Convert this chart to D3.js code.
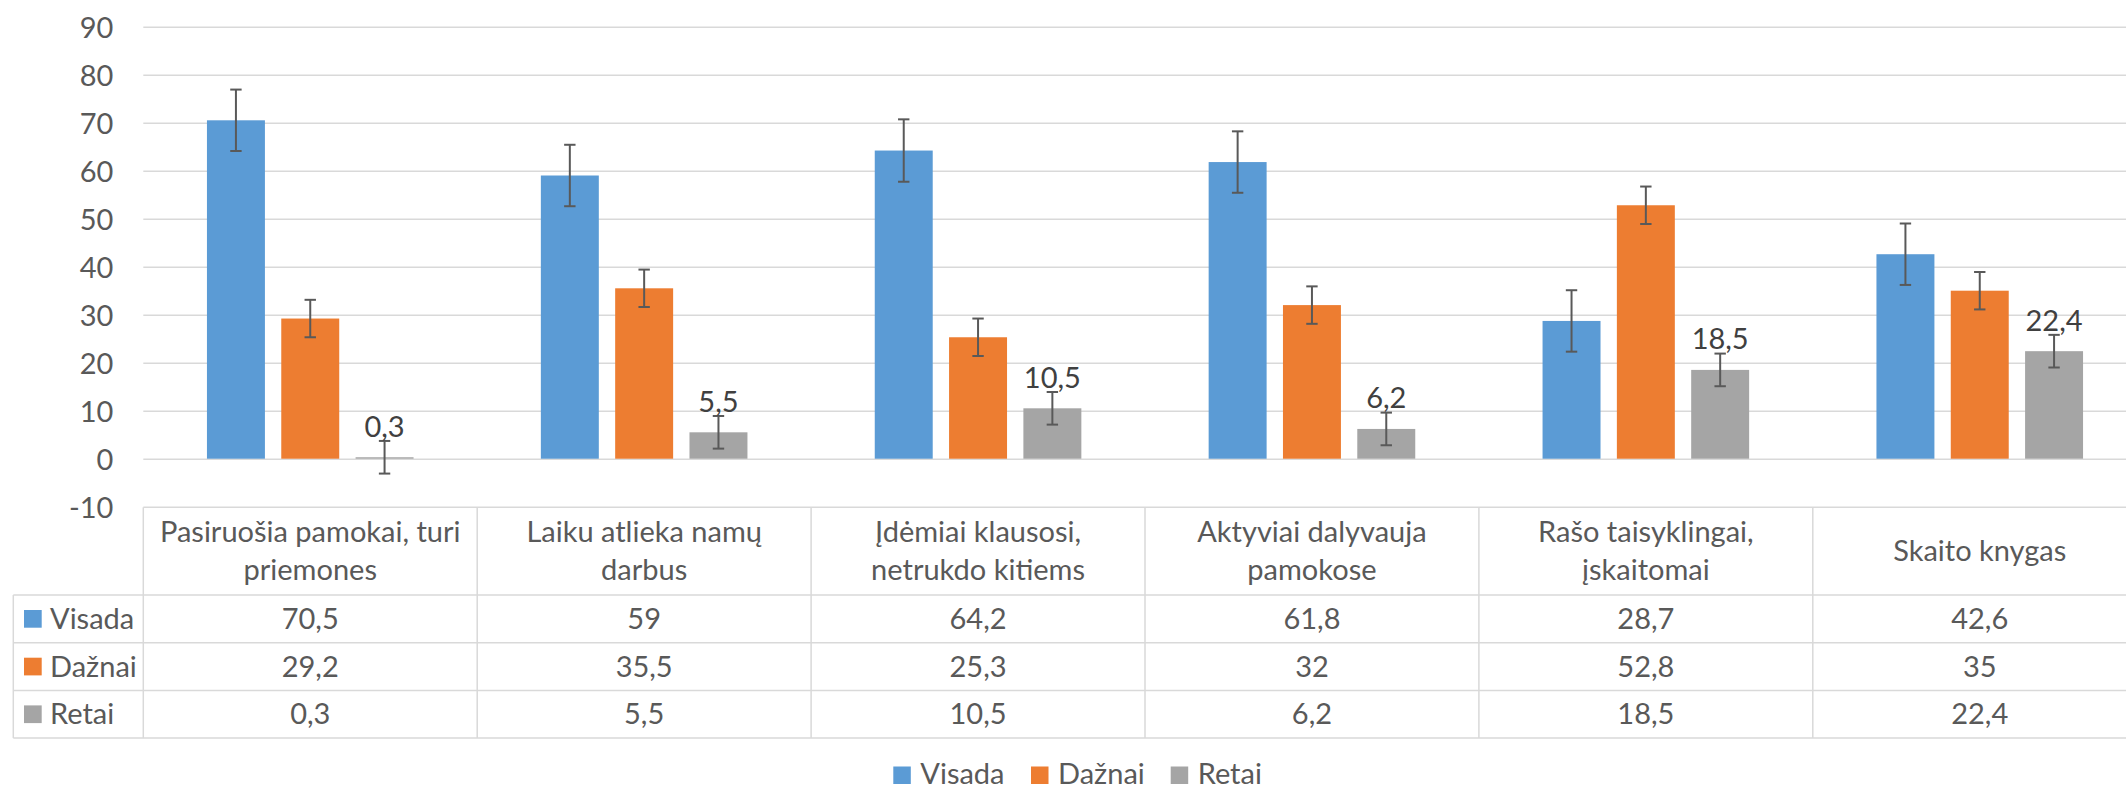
<!DOCTYPE html>
<html>
<head>
<meta charset="utf-8">
<script src="https://cdn.jsdelivr.net/npm/d3@7"></script>
<style>
  html, body { margin: 0; padding: 0; background: #ffffff; }
  svg { display: block; font-family: Lato, "Open Sans", sans-serif; }
</style>
</head>
<body>
<svg id="chart" width="2126" height="790"></svg>
<script>
// ---- data ----
const categories = [
  "Pasiruošia pamokai, turi\npriemones",
  "Laiku atlieka namų\ndarbus",
  "Įdėmiai klausosi,\nnetrukdo kitiems",
  "Aktyviai dalyvauja\npamokose",
  "Rašo taisyklingai,\nįskaitomai",
  "Skaito knygas"
];
const seriesNames = ["Visada", "Dažnai", "Retai"];
const visada = [70.5, 59, 64.2, 61.8, 28.7, 42.6];
const daznai = [29.2, 35.5, 25.3, 32, 52.8, 35];
const retai  = [0.3, 5.5, 10.5, 6.2, 18.5, 22.4];
const errVisada = [6.4, 6.4, 6.5, 6.4, 6.4, 6.4];
const errDaznai = [3.9, 3.9, 3.9, 3.9, 3.9, 3.9];
const errRetai  = [3.4, 3.4, 3.4, 3.4, 3.4, 3.4];
const yTicks = [-10, 0, 10, 20, 30, 40, 50, 60, 70, 80, 90];
const colors = ["#5B9BD5", "#ED7D31", "#A5A5A5"];

const seriesValues = [visada, daznai, retai];
const seriesErrors = [errVisada, errDaznai, errRetai];
const labeledSeries = [false, false, true];

// ---- layout ----
const W = 2126, H = 790;
const plotLeft = 143.3, bandW = 333.9;
const tableTop = 507.3, headerBottom = 595, rowH = 47.7;
const tableBottom = headerBottom + rowH * 3;
const legendColLeft = 13.3;
const gridColor = "#d9d9d9";
const textColor = "#595959";
const fontSize = 29;

const fmt = v => String(v).replace(".", ",");

const svg = d3.select("#chart");

const x = d3.scaleBand().domain(categories).range([plotLeft, plotLeft + bandW * 6]).padding(0);
const groupW = 206.6;
const xs = d3.scaleBand().domain(seriesNames)
  .range([(bandW - groupW) / 2, (bandW + groupW) / 2]).paddingInner(0.22).paddingOuter(0);
const y = d3.scaleLinear().domain([-10, 90]).range([506.7, 26.7]);

// gridlines
const grid = svg.append("g").attr("transform", `translate(${plotLeft},0)`)
  .call(d3.axisLeft(y).tickValues(yTicks.filter(t => t > -10)).tickSize(-(W - plotLeft)).tickFormat(""));
grid.select(".domain").remove();
grid.selectAll(".tick line").attr("stroke", gridColor).attr("stroke-width", 1.5);

// y axis labels
const yAxis = svg.append("g").attr("transform", `translate(${plotLeft},0)`)
  .call(d3.axisLeft(y).tickValues(yTicks).tickSize(0).tickPadding(30).tickFormat(d => fmt(d)));
yAxis.select(".domain").remove();
yAxis.selectAll("text").attr("font-size", fontSize).attr("fill", textColor)
  .attr("font-family", "Lato, sans-serif").attr("dy", "0.36em");

// bars
seriesNames.forEach((s, si) => {
  const g = svg.append("g");
  const vals = seriesValues[si], errs = seriesErrors[si];
  g.selectAll("rect").data(categories).join("rect")
    .attr("x", (c) => x(c) + xs(s))
    .attr("width", xs.bandwidth())
    .attr("y", (c, i) => y(Math.max(0, vals[i])))
    .attr("height", (c, i) => Math.abs(y(vals[i]) - y(0)))
    .attr("fill", colors[si]);
  // error bars
  const eb = svg.append("g").attr("stroke", "#595959").attr("stroke-width", 2);
  categories.forEach((c, i) => {
    const cx = x(c) + xs(s) + xs.bandwidth() / 2;
    const top = y(vals[i] + errs[i]), bot = y(vals[i] - errs[i]);
    eb.append("line").attr("x1", cx).attr("x2", cx).attr("y1", top).attr("y2", bot);
    eb.append("line").attr("x1", cx - 5.7).attr("x2", cx + 5.7).attr("y1", top).attr("y2", top);
    eb.append("line").attr("x1", cx - 5.7).attr("x2", cx + 5.7).attr("y1", bot).attr("y2", bot);
  });
  if (labeledSeries[si]) {
    svg.append("g").selectAll("text").data(categories).join("text")
      .attr("x", c => x(c) + xs(s) + xs.bandwidth() / 2)
      .attr("y", (c, i) => y(vals[i]) - 20.6)
      .attr("text-anchor", "middle")
      .attr("font-size", fontSize)
      .attr("fill", "#404040")
      .text((c, i) => fmt(vals[i]));
  }
});

// ---- data table ----
const tbl = svg.append("g").attr("stroke", gridColor).attr("stroke-width", 1.5).attr("fill", "none");
tbl.append("line").attr("x1", plotLeft).attr("x2", W).attr("y1", tableTop).attr("y2", tableTop);
[0, 1, 2, 3].forEach(r => {
  const yy = headerBottom + r * rowH;
  tbl.append("line").attr("x1", legendColLeft).attr("x2", W).attr("y1", yy).attr("y2", yy);
});
tbl.append("line").attr("x1", legendColLeft).attr("x2", legendColLeft).attr("y1", headerBottom).attr("y2", tableBottom);
categories.forEach((c, i) => {
  const xx = x(c);
  tbl.append("line").attr("x1", xx).attr("x2", xx).attr("y1", tableTop).attr("y2", tableBottom);
});

// header text
const hdr = svg.append("g").attr("font-size", fontSize).attr("fill", textColor).attr("text-anchor", "middle");
categories.forEach(c => {
  const lines = c.split("\n");
  const cx = x(c) + bandW / 2;
  const mid = (tableTop + headerBottom) / 2 + 10;
  lines.forEach((ln, li) => {
    const off = (li - (lines.length - 1) / 2) * 37.8;
    hdr.append("text").attr("x", cx).attr("y", mid + off).text(ln);
  });
});

// rows
seriesNames.forEach((s, si) => {
  const rowMid = headerBottom + rowH * si + rowH / 2;
  svg.append("rect").attr("x", 24).attr("y", rowMid - 8.85).attr("width", 17.7).attr("height", 17.7).attr("fill", colors[si]);
  svg.append("text").attr("x", 50).attr("y", rowMid + 10).attr("font-size", fontSize).attr("fill", textColor).text(s);
  svg.append("g").selectAll("text").data(categories).join("text")
    .attr("x", c => x(c) + bandW / 2)
    .attr("y", rowMid + 10)
    .attr("text-anchor", "middle")
    .attr("font-size", fontSize)
    .attr("fill", textColor)
    .text((c, i) => fmt(seriesValues[si][i]));
});

// ---- legend ----
const legendX = [893.3, 1031, 1170.7];
const leg = svg.append("g");
seriesNames.forEach((s, si) => {
  leg.append("rect").attr("x", legendX[si]).attr("y", 766.5).attr("width", 17.5).attr("height", 17.5).attr("fill", colors[si]);
  leg.append("text").attr("x", legendX[si] + 27).attr("y", 784).attr("font-size", fontSize).attr("fill", textColor).text(s);
});
</script>
</body>
</html>
